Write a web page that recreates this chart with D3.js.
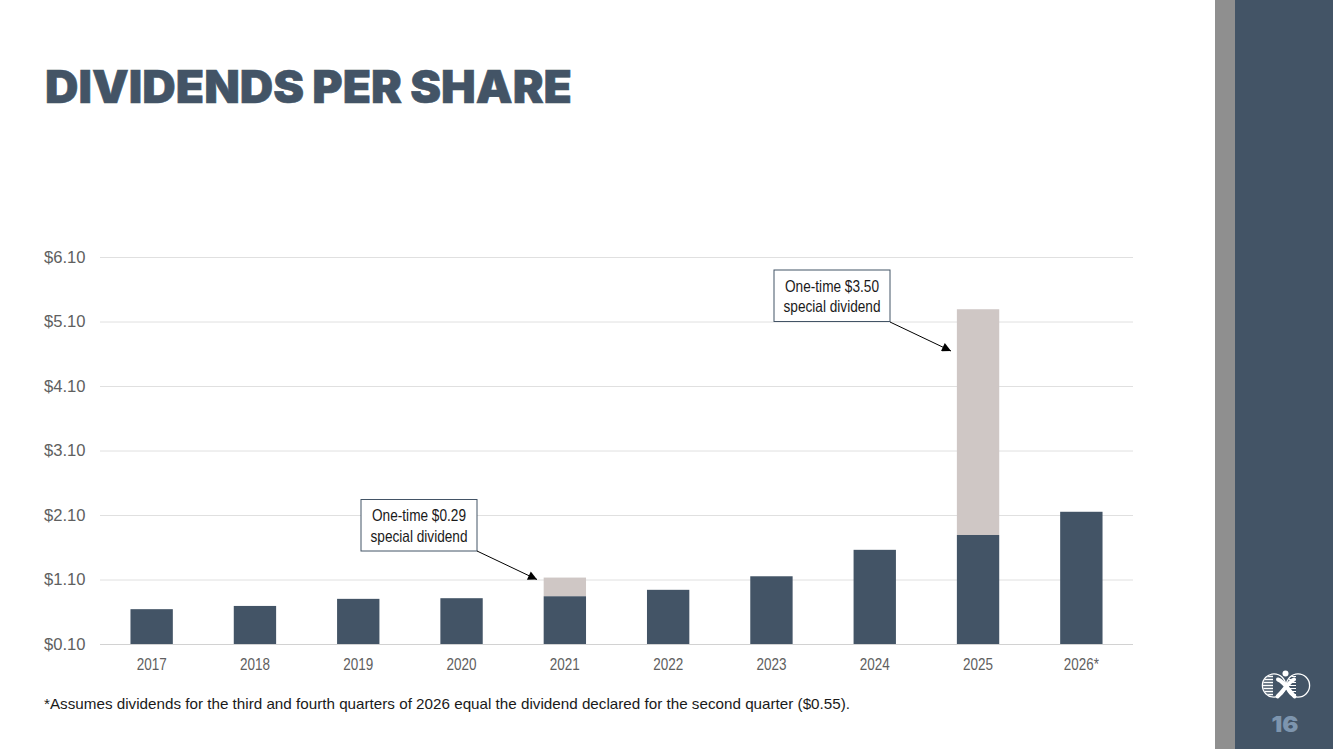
<!DOCTYPE html>
<html>
<head>
<meta charset="utf-8">
<style>
html,body{margin:0;padding:0;background:#fff;overflow:hidden}
svg{display:block}
text{font-family:"Liberation Sans",Arial,sans-serif}
</style>
<script src="https://cdn.jsdelivr.net/npm/d3@7"></script>
</head>
<body>
<svg id="slide" width="1333" height="749"></svg>
<script>
// Dividends per share, regular plus one-time special dividends
const years = ["2017","2018","2019","2020","2021","2022","2023","2024","2025","2026*"];
const regular = [0.64,0.69,0.80,0.81,0.84,0.94,1.15,1.56,1.79,2.15];
const special = [0,0,0,0,0.29,0,0,0,3.50,0];
const tickValues = [0.10,1.10,2.10,3.10,4.10,5.10,6.10];
const notes = [
  {lines:["One-time $0.29","special dividend"], box:[361,499.5,116,51.5], from:[477,551], to:[537,579.5]},
  {lines:["One-time $3.50","special dividend"], box:[774,270,116,51.5], from:[890,322], to:[951,351]}
];

const navy = "#435466", taupe = "#cfc7c5", gray = "#606060";
const svg = d3.select("#slide");

// Side panel
svg.append("rect").attr("x",1215).attr("y",0).attr("width",20).attr("height",749).attr("fill","#8f8f8f");
svg.append("rect").attr("x",1235).attr("y",0).attr("width",98).attr("height",749).attr("fill",navy);

// Heading
svg.append("text").attr("x",45).attr("y",103)
  .attr("font-size",45).attr("font-weight",900).attr("fill",navy)
  .attr("stroke",navy).attr("stroke-width",0.6).attr("word-spacing",-1)
  .style("font-family","Inter").attr("textLength",527).attr("lengthAdjust","spacingAndGlyphs")
  .text("DIVIDENDS PER SHARE");

const x = d3.scaleBand().domain(years).range([100,1133]).paddingInner(0.59).paddingOuter(0.295);
const y = d3.scaleLinear().domain([0.10,6.10]).range([644,257]);

// Horizontal grid and value labels
const yAxis = d3.axisLeft(y).tickValues(tickValues).tickSize(-1033).tickPadding(14.5)
  .tickFormat(d3.format("$.2f"));
const gy = svg.append("g").attr("transform","translate(100,0)").call(yAxis);
gy.select(".domain").remove();
gy.selectAll("line").attr("stroke",d=>d===0.10?"#d2d2d2":"#e0e0e0").attr("stroke-width",1);
gy.selectAll("text").attr("fill",gray).attr("font-size",16)
  .attr("textLength",41.5).attr("lengthAdjust","spacingAndGlyphs")
  .style("font-family","Liberation Sans");

// Year labels
const xAxis = d3.axisBottom(x).tickSize(0).tickPadding(14.5);
const gx = svg.append("g").attr("transform","translate(0,644)").call(xAxis);
gx.select(".domain").remove();
gx.selectAll("text").attr("fill",gray).attr("font-size",16.5)
  .attr("textLength",d=>d.endsWith("*")?35:30).attr("lengthAdjust","spacingAndGlyphs")
  .style("font-family","Liberation Sans");

// Stacked bars
const rows = years.map((yr,i)=>({yr,reg:regular[i],sp:special[i]}));
svg.append("g").selectAll("rect").data(rows.filter(d=>d.sp>0)).join("rect")
  .attr("x",d=>x(d.yr)).attr("width",x.bandwidth())
  .attr("y",d=>y(d.reg+d.sp)).attr("height",d=>y(d.reg)-y(d.reg+d.sp))
  .attr("fill",taupe);
svg.append("g").selectAll("rect").data(rows).join("rect")
  .attr("x",d=>x(d.yr)).attr("width",x.bandwidth())
  .attr("y",d=>y(d.reg)).attr("height",d=>y(0.10)-y(d.reg))
  .attr("fill",navy);

// Callouts
const defs = svg.append("defs");
defs.append("marker").attr("id","arrow")
  .attr("viewBox","0 0 10 10").attr("refX",10).attr("refY",5)
  .attr("markerUnits","userSpaceOnUse").attr("markerWidth",11).attr("markerHeight",9)
  .attr("orient","auto").append("path").attr("d","M0,0L10,5L0,10Z").attr("fill","#000");
const callout = svg.append("g").selectAll("g").data(notes).join("g");
callout.append("rect")
  .attr("x",d=>d.box[0]).attr("y",d=>d.box[1]).attr("width",d=>d.box[2]).attr("height",d=>d.box[3])
  .attr("fill","#fff").attr("stroke",navy).attr("stroke-width",1);
callout.append("line")
  .attr("x1",d=>d.from[0]).attr("y1",d=>d.from[1]).attr("x2",d=>d.to[0]).attr("y2",d=>d.to[1])
  .attr("stroke","#000").attr("stroke-width",1).attr("marker-end","url(#arrow)");
callout.each(function(d){
  const g = d3.select(this);
  d.lines.forEach((t,i)=>{
    g.append("text").attr("x",d.box[0]+d.box[2]/2).attr("y",d.box[1]+21.5+i*20.5)
      .attr("text-anchor","middle").attr("font-size",16.5).attr("fill","#1a1a1a")
      .attr("textLength",t.startsWith("One")?94:97).attr("lengthAdjust","spacingAndGlyphs").text(t);
  });
});

// Footnote
svg.append("text").attr("x",44).attr("y",709).attr("font-size",14.5).attr("fill","#1a1a1a")
  .attr("textLength",806).attr("lengthAdjust","spacingAndGlyphs")
  .text("*Assumes dividends for the third and fourth quarters of 2026 equal the dividend declared for the second quarter ($0.55).");

// Company mark: two rings, striped fills and a central figure
const mark = svg.append("g").attr("transform","translate(1286,685.5)");
defs.append("clipPath").attr("id","leftRing").append("circle").attr("cx",-12).attr("r",11);
defs.append("clipPath").attr("id","rightRing").append("circle").attr("cx",12).attr("r",11);
mark.append("circle").attr("cx",-12).attr("r",11.6).attr("fill","none").attr("stroke","#fff").attr("stroke-width",1.3);
mark.append("circle").attr("cx",12).attr("r",11.6).attr("fill","none").attr("stroke","#fff").attr("stroke-width",1.3);
const stripeRows = [-9,-6,-3,0,3,6,9];
const leftStripes = mark.append("g").attr("clip-path","url(#leftRing)");
const rightStripes = mark.append("g").attr("clip-path","url(#rightRing)");
stripeRows.forEach(dy=>{
  leftStripes.append("line").attr("x1",-24).attr("x2",-13).attr("y1",dy).attr("y2",dy).attr("stroke","#fff").attr("stroke-width",1.5);
  rightStripes.append("line").attr("x1",3).attr("x2",10).attr("y1",dy).attr("y2",dy).attr("stroke","#fff").attr("stroke-width",1.2);
});
mark.append("path").attr("d","M-8,-6C-2,-4 3,5 8.5,11").attr("fill","none").attr("stroke","#fff").attr("stroke-width",4).attr("stroke-linecap","round");
mark.append("path").attr("d","M8,-6C3,-4 -2,5 -8.5,11").attr("fill","none").attr("stroke","#fff").attr("stroke-width",4).attr("stroke-linecap","round");
mark.append("circle").attr("cx",-0.5).attr("cy",-12).attr("r",3).attr("fill","#fff");

// Page number
svg.append("text").attr("x",1285).attr("y",732).attr("text-anchor","middle")
  .attr("font-size",22).attr("font-weight",900).attr("fill","#7d95ae").style("font-family","Inter")
  .attr("textLength",27).attr("lengthAdjust","spacingAndGlyphs").text("16");
</script>
</body>
</html>
